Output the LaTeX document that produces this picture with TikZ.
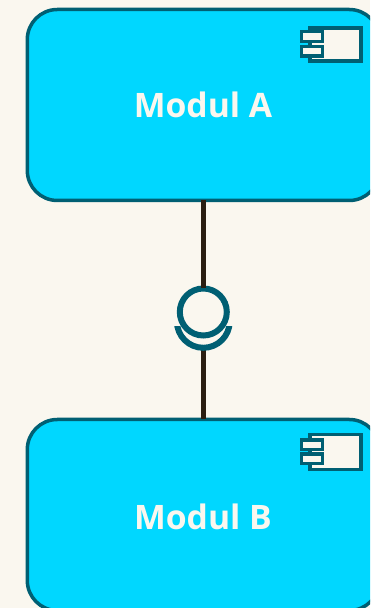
\documentclass[tikz,border=0pt]{standalone}
\usepackage{fontspec}
\setmainfont{Open Sans}
\definecolor{bgc}{HTML}{FAF7EF}
\definecolor{boxc}{HTML}{00D7FF}
\definecolor{edgec}{HTML}{005F73}
\definecolor{linec}{HTML}{2A1E12}
\tikzset{
  modul/.style={draw=edgec,fill=boxc,line width=3.5pt,rounded corners=30pt,minimum width=352pt,minimum height=191pt,inner sep=0pt,outer sep=0pt},
  modtext/.style={text=bgc,font=\fontsize{33.7}{36}\selectfont\bfseries,inner sep=0pt},
  iconmain/.style={draw=edgec,fill=bgc,line width=3.6pt},
  iconpin/.style={draw=edgec,fill=bgc,line width=3.4pt},
  wire/.style={draw=linec,line width=5pt},
  ball/.style={circle,draw=edgec,fill=bgc,line width=6pt,minimum size=47pt,inner sep=0pt,outer sep=0pt},
  sockarc/.style={draw=edgec,line width=6pt}
}
\begin{document}
\begin{tikzpicture}[x=1pt,y=1pt]
\useasboundingbox (0,0) rectangle (370,608);
\fill[bgc] (0,0) rectangle (370,608);
\clip (0,0) rectangle (370,608);
\node[modul] (a) at (203.3,503) {};
\node[modul] (b) at (203.3,93) {};
\node[ball] (l) at (203.3,296) {};
\coordinate (s) at (203.3,259.5);
\draw[wire] (a.south) -- (l.north);
\draw[wire] (s) -- (b.north);
\begin{scope}
\clip (165,240) rectangle (242,281);
\draw[sockarc] (176.9,286.6) arc[start angle=180,end angle=360,radius=26.4];
\end{scope}
\node[modtext] (ta) at (203,503) {Modul A};
\node[modtext] (tb) at (203,91) {Modul B};
% component icons
\draw[iconmain] (310,547) rectangle (361,580.2);
\draw[iconpin] (301.3,566.5) rectangle (322.5,576.5);
\draw[iconpin] (301.3,552) rectangle (322.5,561.5);
\draw[iconmain] (310,138.5) rectangle (361,173.5);
\draw[iconpin] (301.3,158.5) rectangle (322.5,168);
\draw[iconpin] (301.3,144.5) rectangle (322.5,154);
\end{tikzpicture}
\end{document}
